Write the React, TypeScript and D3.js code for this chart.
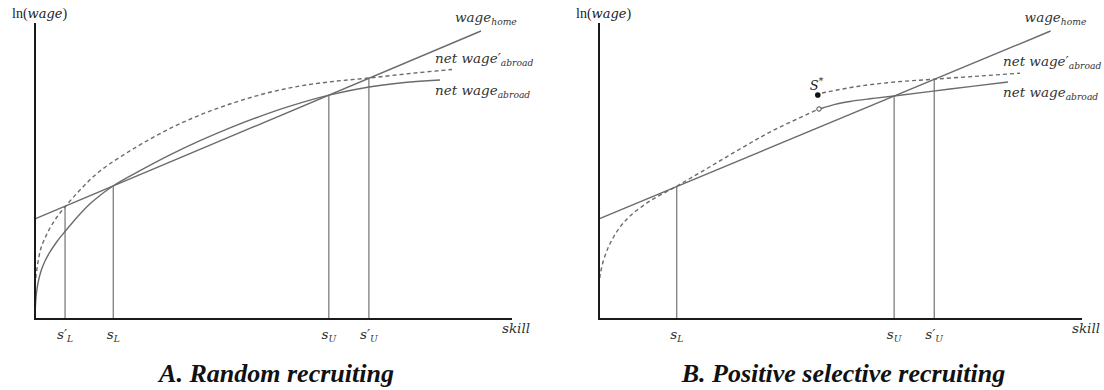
import * as d3 from "d3"

// Conceptual units: skill 0-100 along the x axis, ln(wage) 0-100 up the y axis

// wage at home: straight line (shared by both panels)
const homeLine: [number, number][] = [
  [0, 33.8],
  [93.5, 97.3],
]

// Panel A: random recruiting
const netAbroadA: [number, number][] = [
  [0, 0], [0.1, 4.73], [0.31, 8.78], [0.63, 12.16], [1.26, 16.22], [2.1, 19.59],
  [3.14, 22.64], [4.61, 26.18], [6.29, 29.56], [9.43, 35.47], [11.95, 39.53],
  [16.35, 44.93], [22.01, 50.1], [28.3, 55.44], [34.59, 60.24], [40.88, 64.59],
  [47.17, 68.48], [53.46, 71.93], [61.64, 75.64], [70.02, 78.38], [76.52, 79.73],
  [84.91, 80.74],
]
const netAbroadPrimeA: [number, number][] = [
  [0, 11.49], [0.21, 14.53], [0.63, 19.26], [1.26, 23.99], [2.1, 27.36],
  [3.14, 30.74], [4.61, 34.46], [6.29, 37.84], [9.43, 43.58], [13.63, 50.0],
  [20.55, 57.43], [27.67, 63.85], [34.59, 68.92], [41.51, 72.97], [48.64, 76.35],
  [55.56, 78.72], [62.47, 80.24], [70.02, 81.42], [78.62, 82.94], [87.42, 84.29],
]
const cutsA = [
  { base: "s", prime: true, sub: "L", skill: 6.3 },
  { base: "s", prime: false, sub: "L", skill: 16.4 },
  { base: "s", prime: false, sub: "U", skill: 61.6 },
  { base: "s", prime: true, sub: "U", skill: 70.0 },
]

// Panel B: positive selective recruiting
const netAbroadLowB: [number, number][] = [
  [0, 11.49], [0.21, 14.53], [0.83, 19.26], [1.86, 23.99], [2.9, 27.36],
  [4.35, 31.08], [6.42, 34.8], [10.56, 39.86], [16.15, 44.93], [22.36, 50.84],
  [29.19, 57.43], [36.02, 63.68], [45.55, 70.95],
]
const netAbroadB: [number, number][] = [
  [45.96, 71.11], [48.86, 72.53], [51.97, 73.48], [56.11, 74.39], [61.08, 75.34],
  [72.67, 77.7], [84.68, 80.07],
]
const netAbroadPrimeB: [number, number][] = [
  [46.17, 76.35], [53.42, 78.55], [61.28, 80.07], [69.36, 81.01], [78.88, 82.09],
  [87.16, 83.04],
]
const sStar: [number, number] = [45.3, 75.7]
const cutsB = [
  { base: "s", prime: false, sub: "L", skill: 16.1 },
  { base: "s", prime: false, sub: "U", skill: 61.1 },
  { base: "s", prime: true, sub: "U", skill: 69.4 },
]

const titles = ["A. Random recruiting", "B. Positive selective recruiting"]

const LINE = "#6b6b6b"
const LABEL_FONT = "'DejaVu Serif', serif"
const TOP = 23
const BOTTOM = 319

function homeAt(s: number) {
  const [[x0, y0], [x1, y1]] = homeLine
  return y0 + ((s - x0) * (y1 - y0)) / (x1 - x0)
}

function Sub({ x, y, base, sub, prime, size = 13.5, anchor = "start" }: any) {
  return (
    <text x={x} y={y} fontFamily={LABEL_FONT} fontStyle="italic" fontSize={size} fill="#333" textAnchor={anchor}>
      {base}
      {prime ? "′" : ""}
      <tspan fontSize={size * 0.68} dy={3}>{sub}</tspan>
    </text>
  )
}

function Panel({ left, right, title, titleSize, solid, dashed, lowDashed, cuts, star }: any) {
  const x = d3.scaleLinear().domain([0, 100]).range([left, right])
  const y = d3.scaleLinear().domain([0, 100]).range([BOTTOM, TOP])
  const line = d3
    .line<[number, number]>()
    .x((d) => x(d[0]))
    .y((d) => y(d[1]))
    .curve(d3.curveCatmullRom.alpha(0.5))

  const homeEnd = homeLine[homeLine.length - 1]
  const dashEnd = dashed[dashed.length - 1]
  const solidEnd = solid[solid.length - 1]
  const circle = lowDashed ? lowDashed[lowDashed.length - 1] : null

  return (
    <g>
      {/* threshold verticals */}
      {cuts.map((c: any, i: number) => (
        <line key={i} x1={x(c.skill)} x2={x(c.skill)} y1={y(homeAt(c.skill))} y2={BOTTOM} stroke="#666" strokeWidth={1.1} />
      ))}
      <path d={line(homeLine as any) as string} fill="none" stroke={LINE} strokeWidth={1.4} />
      <path d={line(solid) as string} fill="none" stroke={LINE} strokeWidth={1.4} />
      <path d={line(dashed) as string} fill="none" stroke={LINE} strokeWidth={1.4} strokeDasharray="4,3" />
      {lowDashed && (
        <path d={line(lowDashed) as string} fill="none" stroke={LINE} strokeWidth={1.4} strokeDasharray="4,3" />
      )}
      {circle && <circle cx={x(circle[0])} cy={y(circle[1])} r={2.2} fill="white" stroke="#444" strokeWidth={1} />}
      {star && (
        <g>
          <circle cx={x(star[0])} cy={y(star[1])} r={2.8} fill="#111" />
          <text x={x(star[0]) - 8} y={y(star[1]) - 5} fontFamily={LABEL_FONT} fontStyle="italic" fontSize={13} fill="#222">
            S<tspan fontSize={9} dy={-6}>*</tspan>
          </text>
        </g>
      )}

      {/* axes */}
      <line x1={left} x2={left} y1={TOP} y2={BOTTOM + 1} stroke="#1a1a1a" strokeWidth={2} />
      <line x1={left} x2={right} y1={BOTTOM} y2={BOTTOM} stroke="#1a1a1a" strokeWidth={2} />

      <text x={left - 23} y={18} fontSize={14} fill="#222" fontFamily="'Liberation Serif', serif">
        ln(<tspan fontFamily={LABEL_FONT} fontStyle="italic" fontSize={13}>wage</tspan>)
      </text>
      <text x={right - 10} y={333} fontFamily={LABEL_FONT} fontStyle="italic" fontSize={13.5} fill="#333">
        skill
      </text>

      {cuts.map((c: any, i: number) => (
        <Sub key={i} x={x(c.skill)} y={339} base={c.base} sub={c.sub} prime={c.prime} anchor="middle" />
      ))}

      {/* curve labels */}
      <Sub x={x(homeEnd[0]) - 26} y={y(homeEnd[1]) - 9} base="wage" sub="home" />
      <Sub x={x(dashEnd[0]) - 17} y={y(dashEnd[1]) - 7} base="net wage" sub="abroad" prime />
      <Sub x={x(solidEnd[0]) - 5} y={y(solidEnd[1]) + 15} base="net wage" sub="abroad" />

      <text
        x={(left + right) / 2 + 3}
        y={382}
        textAnchor="middle"
        fontFamily="'Liberation Serif', 'Times New Roman', serif"
        fontWeight="bold"
        fontStyle="italic"
        fontSize={titleSize}
        fill="#111"
      >
        {title}
      </text>
    </g>
  )
}

export default function App() {
  return (
    <svg width={1104} height={390} style={{ position: "absolute", left: 0, top: 0, background: "white" }}>
      <Panel left={35} right={512} title={titles[0]} titleSize={26} solid={netAbroadA} dashed={netAbroadPrimeA} cuts={cutsA} />
      <Panel
        left={599}
        right={1082}
        title={titles[1]}
        titleSize={26}
        solid={netAbroadB}
        dashed={netAbroadPrimeB}
        lowDashed={netAbroadLowB}
        cuts={cutsB}
        star={sStar}
      />
    </svg>
  )
}
